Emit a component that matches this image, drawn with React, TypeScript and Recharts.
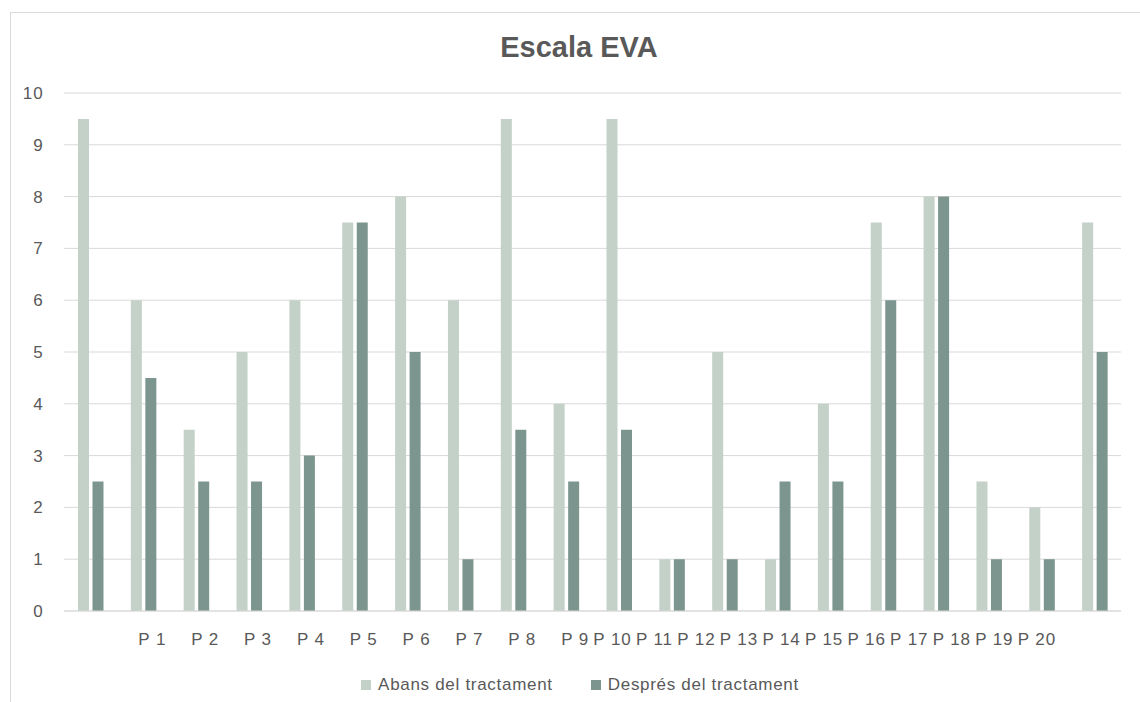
import React from 'react';
import { BarChart, Bar, XAxis, YAxis, CartesianGrid, Legend } from 'recharts';

// Category labels, one per patient
const categories = [
  'P 1', 'P 2', 'P 3', 'P 4', 'P 5', 'P 6', 'P 7', 'P 8', 'P 9', 'P 10',
  'P 11', 'P 12', 'P 13', 'P 14', 'P 15', 'P 16', 'P 17', 'P 18', 'P 19', 'P 20',
];

// EVA pain score before treatment
const abans = [9.5, 6, 3.5, 5, 6, 7.5, 8, 6, 9.5, 4, 9.5, 1, 5, 1, 4, 7.5, 8, 2.5, 2, 7.5];

// EVA pain score after treatment
const despres = [2.5, 4.5, 2.5, 2.5, 3, 7.5, 5, 1, 3.5, 2.5, 3.5, 1, 1, 2.5, 2.5, 6, 8, 1, 1, 5];

const yTicks = [0, 1, 2, 3, 4, 5, 6, 7, 8, 9, 10];

const SERIES = [
  { key: 'abans', name: 'Abans del tractament', color: '#C3D1C8' },
  { key: 'despres', name: 'Després del tractament', color: '#7C968F' },
];

const data = categories.map((name, i) => ({ name, abans: abans[i], despres: despres[i] }));

const W = 1140;
const H = 702;
const MARGIN = { top: 93, right: 19, bottom: 6, left: 0 };
const Y_AXIS_W = 64;
const X_AXIS_H = 63;
const LEGEND_H = 22;
const FONT = '"Liberation Sans", Arial, Helvetica, sans-serif';
const TEXT = '#595959';
const GRID = '#d9d9d9';

const plotLeft = MARGIN.left + Y_AXIS_W;
const plotWidth = W - plotLeft - MARGIN.right;
const band = plotWidth / categories.length;

// The label row: the first labels sit one band to the right of their
// group, the remaining ones run on after them as a single line of text.
const LABEL_INSET = 21.5;
const POSITIONED = 9;
const FLOW_GAP = 4.3;

function CategoryLabels(props: any) {
  const { x, y, index } = props;
  if (index !== 0) return <g />;
  const firstBandStart = x - band / 2;
  return (
    <text
      y={y + 34}
      fontSize={17}
      letterSpacing={0.9}
      fill={TEXT}
      fontFamily={FONT}
      textAnchor="start"
    >
      {categories.map((label, k) =>
        k < POSITIONED ? (
          <tspan key={label} x={firstBandStart + (k + 1) * band + LABEL_INSET}>
            {label}
          </tspan>
        ) : (
          <tspan key={label} dx={FLOW_GAP}>
            {label}
          </tspan>
        )
      )}
    </text>
  );
}

function LegendContent(props: any) {
  const items = props.payload || [];
  return (
    <div
      style={{
        display: 'flex',
        justifyContent: 'center',
        alignItems: 'center',
        height: LEGEND_H,
        gap: 38,
        fontFamily: FONT,
        fontSize: 17,
        letterSpacing: 0.7,
        color: TEXT,
        whiteSpace: 'nowrap',
      }}
    >
      {items.map((entry: any) => (
        <div key={entry.value} style={{ display: 'flex', alignItems: 'center' }}>
          <span
            style={{
              display: 'inline-block',
              width: 10,
              height: 10,
              background: entry.color,
              marginRight: 7,
            }}
          />
          <span>{entry.value}</span>
        </div>
      ))}
    </div>
  );
}

export default function App() {
  return (
    <div
      style={{
        position: 'fixed',
        left: 0,
        top: 0,
        width: W,
        height: H,
        overflow: 'hidden',
        background: '#ffffff',
      }}
    >
      <div
        style={{
          position: 'absolute',
          left: 10,
          top: 12,
          width: 1200,
          height: 800,
          border: `1px solid ${GRID}`,
          boxSizing: 'border-box',
        }}
      />
      <div
        style={{
          position: 'absolute',
          left: 9,
          top: 33,
          width: 1140,
          textAlign: 'center',
          fontFamily: FONT,
          fontWeight: 'bold',
          fontSize: 29,
          lineHeight: '29px',
          color: TEXT,
          whiteSpace: 'nowrap',
        }}
      >
        Escala EVA
      </div>
      <div style={{ position: 'absolute', left: 0, top: 0 }}>
        <BarChart
          width={W}
          height={H}
          data={data}
          margin={MARGIN}
          barSize={11}
          barGap={3.5}
        >
          <CartesianGrid vertical={false} stroke={GRID} strokeWidth={1} />
          <XAxis
            dataKey="name"
            axisLine={{ stroke: GRID, strokeWidth: 1 }}
            tickLine={false}
            tickSize={0}
            tickMargin={0}
            interval={0}
            height={X_AXIS_H}
            tick={<CategoryLabels />}
          />
          <YAxis
            type="number"
            domain={[0, 10]}
            ticks={yTicks}
            interval={0}
            width={Y_AXIS_W}
            axisLine={false}
            tickLine={false}
            tickSize={0}
            tickMargin={20.5}
            tick={{ fontSize: 17, fill: TEXT, fontFamily: FONT, letterSpacing: 0.9 }}
          />
          <Legend
            verticalAlign="bottom"
            align="center"
            height={LEGEND_H}
            wrapperStyle={{ left: 10, width: 1140 }}
            content={<LegendContent />}
          />
          {SERIES.map((s) => (
            <Bar
              key={s.key}
              dataKey={s.key}
              name={s.name}
              fill={s.color}
              isAnimationActive={false}
            />
          ))}
        </BarChart>
      </div>
    </div>
  );
}
